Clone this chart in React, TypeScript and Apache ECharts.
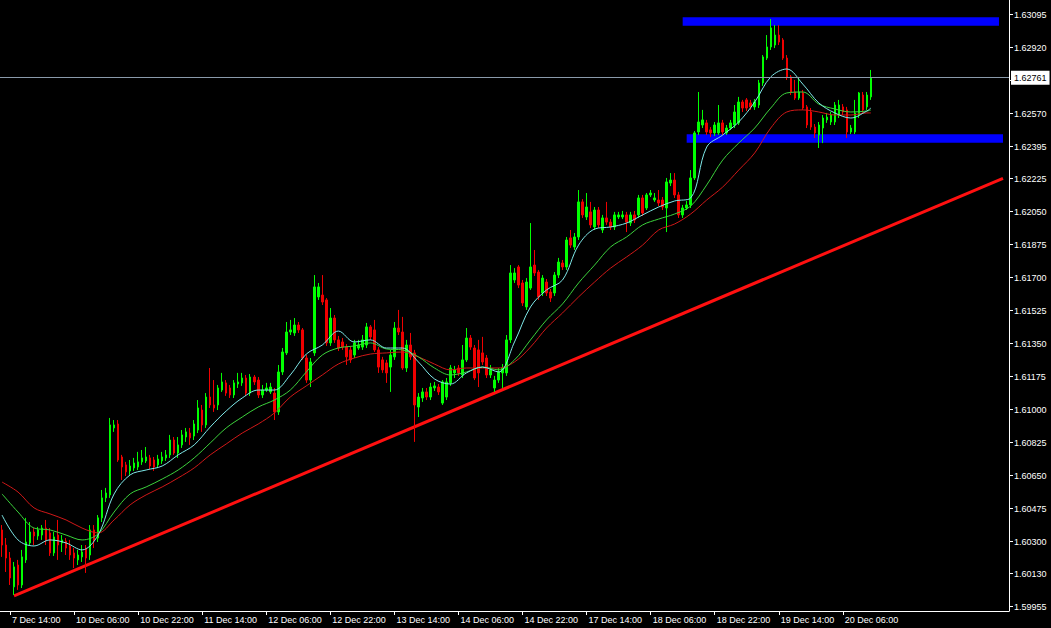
import React, { useEffect, useRef } from "react";
import * as echarts from "echarts";

// ---------- categories (hourly bars, weekends skipped) ----------
const MONTHS = ["Jan", "Feb", "Mar", "Apr", "May", "Jun", "Jul", "Aug", "Sep", "Oct", "Nov", "Dec"];
const SLOT_COUNT = 252;
function buildHours(startUtc: number, n: number): string[] {
  const out: string[] = [];
  let t = startUtc;
  while (out.length < n) {
    const d = new Date(t);
    const wd = d.getUTCDay();
    if (wd !== 0 && wd !== 6) {
      out.push(`${d.getUTCDate()} ${MONTHS[d.getUTCMonth()]} ${String(d.getUTCHours()).padStart(2, "0")}:00`);
    }
    t += 3600000;
  }
  return out;
}
const categories = buildHours(Date.UTC(2012, 11, 7, 12), SLOT_COUNT);

const timeTicks = [
  "7 Dec 14:00", "10 Dec 06:00", "10 Dec 22:00", "11 Dec 14:00", "12 Dec 06:00",
  "12 Dec 22:00", "13 Dec 14:00", "14 Dec 06:00", "14 Dec 22:00", "17 Dec 14:00",
  "18 Dec 06:00", "18 Dec 22:00", "19 Dec 14:00", "20 Dec 06:00",
];

// tick marks (1.62745 sits under the bid-price box, so its label is not shown)
const priceTicks = [
  1.63095, 1.6292, 1.62745, 1.6257, 1.62395, 1.62225, 1.6205, 1.61875, 1.617, 1.61525,
  1.6135, 1.61175, 1.61, 1.60825, 1.6065, 1.60475, 1.603, 1.6013, 1.59955,
];
const priceLabels = [
  1.63095, 1.6292, 1.6257, 1.62395, 1.62225, 1.6205, 1.61875, 1.617, 1.61525,
  1.6135, 1.61175, 1.61, 1.60825, 1.6065, 1.60475, 1.603, 1.6013, 1.59955,
];

// ---------- OHLC ----------
const opens = [
  1.60362, 1.60282, 1.60213, 1.60060, 1.60176, 1.60070, 1.60203, 1.60293, 1.60351, 1.60330,
  1.60335, 1.60372, 1.60346, 1.60240, 1.60335, 1.60293, 1.60303, 1.60277, 1.60240, 1.60203,
  1.60219, 1.60266, 1.60229, 1.60362, 1.60319, 1.60426, 1.60532, 1.60548, 1.60903, 1.60924,
  1.60749, 1.60707, 1.60675, 1.60691, 1.60696, 1.60723, 1.60728, 1.60744, 1.60733, 1.60707,
  1.60728, 1.60744, 1.60760, 1.60839, 1.60770, 1.60813, 1.60855, 1.60876, 1.60860, 1.60892,
  1.60998, 1.60919, 1.61067, 1.61025, 1.61025, 1.61104, 1.61142, 1.61115, 1.61078, 1.61136,
  1.61142, 1.61168, 1.61088, 1.61173, 1.61157, 1.61078, 1.61104, 1.61094, 1.61088, 1.60988,
  1.61200, 1.61301, 1.61412, 1.61407, 1.61449, 1.61423, 1.61274, 1.61157, 1.61301, 1.61598,
  1.61608, 1.61582, 1.61354, 1.61486, 1.61370, 1.61359, 1.61332, 1.61317, 1.61290, 1.61327,
  1.61332, 1.61343, 1.61439, 1.61423, 1.61317, 1.61264, 1.61248, 1.61226, 1.61280, 1.61433,
  1.61412, 1.61221, 1.61343, 1.61301, 1.61014, 1.61062, 1.61094, 1.61067, 1.61115, 1.61120,
  1.61035, 1.61067, 1.61142, 1.61195, 1.61221, 1.61184, 1.61264, 1.61380, 1.61327, 1.61317,
  1.61301, 1.61274, 1.61184, 1.61115, 1.61157, 1.61195, 1.61195, 1.61370, 1.61688, 1.61757,
  1.61672, 1.61545, 1.61645, 1.61767, 1.61730, 1.61619, 1.61677, 1.61624, 1.61619, 1.61714,
  1.61778, 1.61757, 1.61911, 1.61863, 1.61916, 1.62102, 1.62022, 1.62049, 1.61969, 1.62059,
  1.61953, 1.62017, 1.61995, 1.61969, 1.62022, 1.62022, 1.62033, 1.61990, 1.62033, 1.62033,
  1.62123, 1.62070, 1.62139, 1.62112, 1.62112, 1.62112, 1.62070, 1.62202, 1.62218, 1.62139,
  1.62033, 1.62070, 1.62086, 1.62229, 1.62473, 1.62510, 1.62521, 1.62484, 1.62468, 1.62468,
  1.62521, 1.62468, 1.62494, 1.62510, 1.62521, 1.62632, 1.62643, 1.62627, 1.62606, 1.62616,
  1.62733, 1.62865, 1.62924, 1.62934, 1.62987, 1.62961, 1.62865, 1.62765, 1.62685, 1.62653,
  1.62680, 1.62606, 1.62579, 1.62499, 1.62457, 1.62494, 1.62537, 1.62526, 1.62526, 1.62563,
  1.62606, 1.62590, 1.62473, 1.62473, 1.62563, 1.62669, 1.62606, 1.62659,
];
const closes = [
  1.60282, 1.60213, 1.60107, 1.60166, 1.60070, 1.60219, 1.60298, 1.60351, 1.60330, 1.60362,
  1.60372, 1.60309, 1.60240, 1.60325, 1.60282, 1.60309, 1.60266, 1.60229, 1.60213, 1.60229,
  1.60245, 1.60213, 1.60362, 1.60309, 1.60426, 1.60532, 1.60558, 1.60919, 1.60919, 1.60733,
  1.60696, 1.60670, 1.60701, 1.60717, 1.60723, 1.60744, 1.60749, 1.60701, 1.60696, 1.60738,
  1.60749, 1.60760, 1.60839, 1.60770, 1.60813, 1.60866, 1.60882, 1.60850, 1.60924, 1.61009,
  1.60919, 1.61067, 1.61025, 1.61009, 1.61115, 1.61147, 1.61088, 1.61078, 1.61142, 1.61147,
  1.61168, 1.61088, 1.61173, 1.61147, 1.61078, 1.61104, 1.61115, 1.61120, 1.60988, 1.61200,
  1.61306, 1.61412, 1.61423, 1.61449, 1.61423, 1.61274, 1.61157, 1.61253, 1.61651, 1.61651,
  1.61571, 1.61354, 1.61486, 1.61370, 1.61327, 1.61332, 1.61280, 1.61264, 1.61354, 1.61343,
  1.61370, 1.61439, 1.61386, 1.61317, 1.61226, 1.61211, 1.61195, 1.61290, 1.61433, 1.61412,
  1.61221, 1.61343, 1.61280, 1.61025, 1.61067, 1.61094, 1.61067, 1.61120, 1.61126, 1.61094,
  1.61147, 1.61147, 1.61221, 1.61211, 1.61195, 1.61264, 1.61380, 1.61332, 1.61168, 1.61195,
  1.61253, 1.61184, 1.61211, 1.61157, 1.61200, 1.61221, 1.61370, 1.61725, 1.61725, 1.61661,
  1.61566, 1.61677, 1.61757, 1.61725, 1.61598, 1.61698, 1.61619, 1.61592, 1.61714, 1.61783,
  1.61757, 1.61900, 1.61873, 1.61916, 1.62102, 1.62033, 1.62075, 1.61980, 1.62059, 1.61980,
  1.62017, 1.61995, 1.61969, 1.62033, 1.62033, 1.62033, 1.61995, 1.62033, 1.62006, 1.62123,
  1.62043, 1.62139, 1.62149, 1.62123, 1.62096, 1.62075, 1.62208, 1.62218, 1.62139, 1.62033,
  1.62070, 1.62086, 1.62229, 1.62468, 1.62526, 1.62537, 1.62473, 1.62468, 1.62510, 1.62521,
  1.62473, 1.62494, 1.62521, 1.62579, 1.62632, 1.62600, 1.62600, 1.62606, 1.62632, 1.62733,
  1.62871, 1.62924, 1.63025, 1.62987, 1.62950, 1.62865, 1.62765, 1.62685, 1.62653, 1.62685,
  1.62600, 1.62510, 1.62499, 1.62468, 1.62510, 1.62547, 1.62552, 1.62563, 1.62616, 1.62616,
  1.62579, 1.62473, 1.62494, 1.62574, 1.62680, 1.62590, 1.62669, 1.62761,
];
const lows = [
  1.60219, 1.60139, 1.60070, 1.60017, 1.60044, 1.60054, 1.60187, 1.60277, 1.60282, 1.60309,
  1.60309, 1.60282, 1.60224, 1.60224, 1.60203, 1.60245, 1.60229, 1.60203, 1.60160, 1.60176,
  1.60192, 1.60134, 1.60203, 1.60266, 1.60298, 1.60404, 1.60510, 1.60532, 1.60882, 1.60723,
  1.60627, 1.60648, 1.60654, 1.60675, 1.60680, 1.60707, 1.60717, 1.60685, 1.60675, 1.60691,
  1.60712, 1.60728, 1.60744, 1.60760, 1.60744, 1.60797, 1.60829, 1.60813, 1.60839, 1.60876,
  1.60882, 1.60903, 1.61009, 1.60988, 1.60998, 1.61094, 1.61073, 1.61062, 1.61062, 1.61115,
  1.61126, 1.61073, 1.61073, 1.61131, 1.61062, 1.61062, 1.61094, 1.61083, 1.60945, 1.60972,
  1.61184, 1.61290, 1.61396, 1.61391, 1.61407, 1.61264, 1.61142, 1.61120, 1.61285, 1.61582,
  1.61555, 1.61338, 1.61338, 1.61354, 1.61311, 1.61317, 1.61237, 1.61248, 1.61274, 1.61317,
  1.61317, 1.61327, 1.61370, 1.61306, 1.61195, 1.61195, 1.61142, 1.61094, 1.61264, 1.61396,
  1.61211, 1.61200, 1.61264, 1.60829, 1.60961, 1.61041, 1.61051, 1.61051, 1.61099, 1.61078,
  1.61025, 1.61051, 1.61126, 1.61168, 1.61179, 1.61168, 1.61253, 1.61317, 1.61157, 1.61120,
  1.61237, 1.61168, 1.61168, 1.61094, 1.61142, 1.61115, 1.61179, 1.61354, 1.61672, 1.61645,
  1.61550, 1.61529, 1.61635, 1.61709, 1.61582, 1.61603, 1.61603, 1.61571, 1.61603, 1.61698,
  1.61741, 1.61741, 1.61858, 1.61847, 1.61900, 1.62017, 1.62006, 1.61964, 1.61953, 1.61964,
  1.61937, 1.61980, 1.61953, 1.61953, 1.62011, 1.62011, 1.61942, 1.61974, 1.61990, 1.62017,
  1.62027, 1.62059, 1.62128, 1.62102, 1.62080, 1.62059, 1.61942, 1.62186, 1.62123, 1.62017,
  1.62017, 1.62059, 1.62070, 1.62218, 1.62457, 1.62494, 1.62457, 1.62446, 1.62452, 1.62457,
  1.62457, 1.62457, 1.62484, 1.62494, 1.62510, 1.62579, 1.62584, 1.62590, 1.62590, 1.62600,
  1.62717, 1.62855, 1.62908, 1.62918, 1.62934, 1.62855, 1.62749, 1.62669, 1.62643, 1.62643,
  1.62590, 1.62494, 1.62484, 1.62441, 1.62388, 1.62414, 1.62521, 1.62510, 1.62510, 1.62547,
  1.62563, 1.62441, 1.62462, 1.62462, 1.62547, 1.62574, 1.62590, 1.62643,
];
const highs = [
  1.60388, 1.60319, 1.60245, 1.60192, 1.60203, 1.60256, 1.60426, 1.60404, 1.60372, 1.60378,
  1.60388, 1.60415, 1.60372, 1.60351, 1.60415, 1.60335, 1.60319, 1.60309, 1.60266, 1.60256,
  1.60282, 1.60282, 1.60388, 1.60388, 1.60441, 1.60574, 1.60585, 1.60956, 1.60945, 1.60945,
  1.60760, 1.60723, 1.60733, 1.60744, 1.60776, 1.60786, 1.60802, 1.60760, 1.60749, 1.60760,
  1.60776, 1.60786, 1.60866, 1.60855, 1.60855, 1.60892, 1.60903, 1.60903, 1.60945, 1.61051,
  1.61025, 1.61088, 1.61221, 1.61157, 1.61131, 1.61195, 1.61157, 1.61131, 1.61157, 1.61195,
  1.61195, 1.61184, 1.61189, 1.61184, 1.61173, 1.61131, 1.61142, 1.61142, 1.61115, 1.61237,
  1.61327, 1.61465, 1.61476, 1.61486, 1.61465, 1.61433, 1.61290, 1.61274, 1.61714, 1.61672,
  1.61714, 1.61592, 1.61539, 1.61502, 1.61391, 1.61380, 1.61348, 1.61338, 1.61370, 1.61370,
  1.61396, 1.61460, 1.61449, 1.61476, 1.61332, 1.61280, 1.61264, 1.61317, 1.61465, 1.61529,
  1.61492, 1.61370, 1.61407, 1.61317, 1.61088, 1.61115, 1.61115, 1.61142, 1.61147, 1.61136,
  1.61157, 1.61168, 1.61237, 1.61232, 1.61237, 1.61343, 1.61433, 1.61396, 1.61343, 1.61370,
  1.61386, 1.61290, 1.61237, 1.61179, 1.61221, 1.61242, 1.61396, 1.61767, 1.61751, 1.61767,
  1.61688, 1.61698, 1.61990, 1.61847, 1.61741, 1.61714, 1.61693, 1.61640, 1.61730, 1.61805,
  1.61794, 1.61916, 1.61953, 1.61937, 1.62165, 1.62117, 1.62149, 1.62102, 1.62075, 1.62075,
  1.62033, 1.62102, 1.62011, 1.62049, 1.62049, 1.62054, 1.62049, 1.62049, 1.62054, 1.62139,
  1.62139, 1.62149, 1.62165, 1.62149, 1.62165, 1.62128, 1.62229, 1.62255, 1.62255, 1.62155,
  1.62086, 1.62107, 1.62271, 1.62478, 1.62685, 1.62590, 1.62537, 1.62499, 1.62526, 1.62616,
  1.62537, 1.62510, 1.62537, 1.62616, 1.62659, 1.62643, 1.62653, 1.62643, 1.62648, 1.62749,
  1.62881, 1.62987, 1.63072, 1.63040, 1.63040, 1.62971, 1.62881, 1.62775, 1.62749, 1.62765,
  1.62696, 1.62616, 1.62600, 1.62515, 1.62526, 1.62563, 1.62574, 1.62579, 1.62632, 1.62643,
  1.62621, 1.62606, 1.62510, 1.62643, 1.62685, 1.62685, 1.62685, 1.62802,
];

// ---------- moving averages (read every 4 bars) ----------
const maIdx = [
  0, 4, 8, 12, 16, 20, 24, 28, 32, 36, 40, 44, 48, 52, 56, 60, 64, 68, 72, 76,
  80, 84, 88, 92, 96, 100, 104, 108, 112, 116, 120, 124, 128, 132, 136, 140, 144, 148, 152, 156,
  160, 164, 168, 172, 176, 180, 184, 188, 192, 196, 200, 204, 208, 212, 216, 217,
];
const maFast = [
  1.60441, 1.60309, 1.60277, 1.60309, 1.60293, 1.60256, 1.60335, 1.60553, 1.60654, 1.60680,
  1.60701, 1.60760, 1.60813, 1.60908, 1.60993, 1.61062, 1.61104, 1.61104, 1.61184, 1.61295,
  1.61343, 1.61417, 1.61359, 1.61370, 1.61327, 1.61327, 1.61253, 1.61163, 1.61136, 1.61195,
  1.61226, 1.61200, 1.61359, 1.61545, 1.61635, 1.61688, 1.61873, 1.61958, 1.61969, 1.61990,
  1.62033, 1.62075, 1.62107, 1.62123, 1.62393, 1.62457, 1.62526, 1.62632, 1.62765, 1.62807,
  1.62727, 1.62627, 1.62574, 1.62547, 1.62584, 1.62600,
];
const maMid = [
  1.60553, 1.60457, 1.60372, 1.60362, 1.60335, 1.60309, 1.60341, 1.60457, 1.60553, 1.60590,
  1.60632, 1.60680, 1.60744, 1.60823, 1.60903, 1.60961, 1.61014, 1.61051, 1.61104, 1.61200,
  1.61290, 1.61327, 1.61338, 1.61354, 1.61322, 1.61317, 1.61280, 1.61221, 1.61184, 1.61200,
  1.61226, 1.61211, 1.61264, 1.61370, 1.61476, 1.61561, 1.61672, 1.61767, 1.61863, 1.61916,
  1.61980, 1.62011, 1.62038, 1.62080, 1.62192, 1.62324, 1.62414, 1.62494, 1.62600, 1.62680,
  1.62685, 1.62621, 1.62595, 1.62579, 1.62584, 1.62590,
];
const maSlow = [
  1.60616, 1.60563, 1.60479, 1.60447, 1.60415, 1.60372, 1.60346, 1.60415, 1.60495, 1.60548,
  1.60590, 1.60638, 1.60691, 1.60760, 1.60818, 1.60876, 1.60924, 1.60982, 1.61067, 1.61126,
  1.61184, 1.61242, 1.61274, 1.61295, 1.61301, 1.61306, 1.61280, 1.61242, 1.61211, 1.61221,
  1.61221, 1.61221, 1.61253, 1.61332, 1.61433, 1.61513, 1.61598, 1.61677, 1.61751, 1.61810,
  1.61873, 1.61953, 1.61985, 1.62038, 1.62112, 1.62181, 1.62271, 1.62362, 1.62494, 1.62579,
  1.62590, 1.62579, 1.62563, 1.62563, 1.62574, 1.62574,
];

// ---------- drawn objects ----------
const trendIdx = [3, 250];
const trendVal = [1.60012, 1.62227];
const resistanceIdx = [170, 249];
const resistanceVal = 1.63059;
const supportIdx = [171, 250];
const supportVal = 1.62438;
const bidPrice = 1.62761;

const FONT = "Liberation Sans, Arial, sans-serif";

export default function App() {
  const ref = useRef<HTMLDivElement>(null);
  useEffect(() => {
    if (!ref.current) return;
    const chart = echarts.init(ref.current, undefined, { renderer: "svg" });
    const candleData = opens.map((o, i) => [o, closes[i], lows[i], highs[i]]);
    const maLine = (vals: number[], color: string) => ({
      type: "line",
      data: maIdx.map((x, k) => [x, vals[k]]),
      showSymbol: false,
      symbol: "none",
      smooth: 0.35,
      silent: true,
      lineStyle: { color, width: 1 },
      z: 4,
    });
    chart.setOption({
      animation: false,
      backgroundColor: "#000000",
      grid: { left: 0, right: 42, top: 0, bottom: 17, containLabel: false },
      xAxis: {
        type: "category",
        data: categories,
        boundaryGap: true,
        axisLine: { show: true, onZero: false, lineStyle: { color: "#ffffff", width: 1 } },
        axisTick: {
          show: true,
          alignWithLabel: true,
          length: 4,
          lineStyle: { color: "#ffffff" },
          interval: (_i: number, v: string) => timeTicks.includes(v),
        },
        axisLabel: {
          color: "#ffffff",
          fontSize: 9,
          fontFamily: FONT,
          align: "left",
          margin: 4,
          padding: [0, 0, 0, 2],
          interval: (_i: number, v: string) => timeTicks.includes(v),
        },
        splitLine: { show: false },
      },
      yAxis: {
        type: "value",
        position: "right",
        min: 1.59932,
        max: 1.63173,
        axisLine: { show: true, lineStyle: { color: "#ffffff", width: 1 } },
        axisTick: { show: true, length: 4, lineStyle: { color: "#ffffff" }, customValues: priceTicks },
        axisLabel: {
          color: "#ffffff",
          fontSize: 9,
          fontFamily: FONT,
          margin: 5,
          customValues: priceLabels,
          formatter: (v: number) => v.toFixed(5),
        },
        splitLine: { show: false },
      },
      series: [
        {
          type: "line",
          data: resistanceIdx.map((x) => [x, resistanceVal]),
          symbol: "none",
          silent: true,
          lineStyle: { color: "#0000FF", width: 8.5, cap: "butt" },
          z: 1,
        },
        {
          type: "line",
          data: supportIdx.map((x) => [x, supportVal]),
          symbol: "none",
          silent: true,
          lineStyle: { color: "#0000FF", width: 8.5, cap: "butt" },
          z: 1,
        },
        {
          type: "line",
          data: trendIdx.map((x, k) => [x, trendVal[k]]),
          symbol: "none",
          silent: true,
          lineStyle: { color: "#FF1010", width: 3 },
          z: 1,
        },
        {
          type: "line",
          data: [],
          symbol: "none",
          silent: true,
          z: 5,
          markLine: {
            symbol: "none",
            silent: true,
            precision: 5,
            data: [{ yAxis: bidPrice }],
            lineStyle: { color: "#8A9AAA", width: 1, type: "solid" },
            label: {
              position: "end",
              formatter: bidPrice.toFixed(5),
              color: "#000000",
              backgroundColor: "#ffffff",
              fontSize: 9,
              fontFamily: FONT,
              padding: [3, 3, 2, 3],
              distance: 2,
            },
          },
        },
        {
          type: "candlestick",
          data: candleData,
          barWidth: 2,
          silent: true,
          itemStyle: {
            color: "#00FF00",
            color0: "#F00000",
            borderColor: "#00FF00",
            borderColor0: "#F00000",
            borderWidth: 1,
          },
          z: 3,
        },
        maLine(maSlow, "#D01818"),
        maLine(maMid, "#3CD23C"),
        maLine(maFast, "#7FE9E9"),
      ],
    });
    return () => chart.dispose();
  }, []);
  return (
    <div
      ref={ref}
      style={{ position: "fixed", left: 0, top: 0, width: 1051, height: 628, background: "#000" }}
    />
  );
}
